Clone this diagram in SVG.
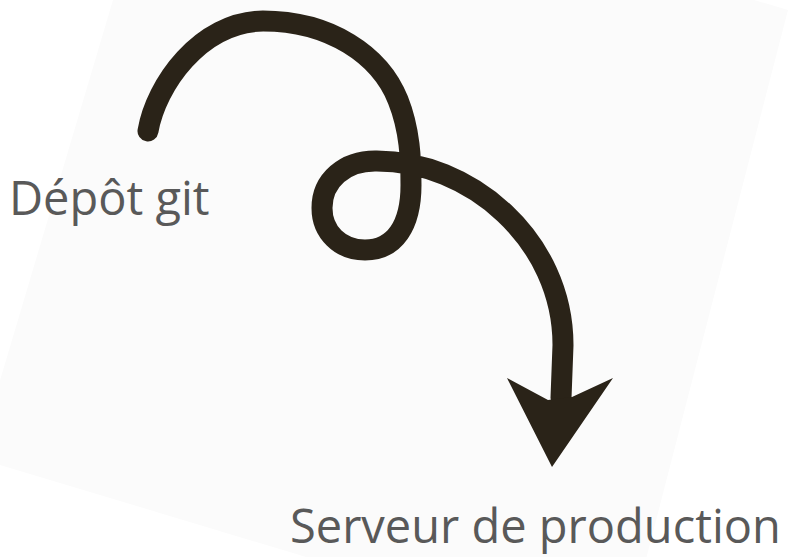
<svg xmlns="http://www.w3.org/2000/svg" width="796" height="557" viewBox="0 0 796 557">
  <style>
    .label { font-family: "Open Sans", "Noto Sans", "Liberation Sans", sans-serif; fill: #595959; }
    .curl { fill: none; stroke: #2a2318; stroke-width: 21; stroke-linecap: round; stroke-linejoin: round; }
    .head { fill: #2a2318; }
  </style>
  <rect x="0" y="0" width="796" height="557" fill="#ffffff"/>
  <polygon points="113,0 754,0 788,10 622,652 -23,458" fill="#fbfbfb"/>

  <g id="connectors">
    <path class="curl" d="M148,131 C156,85 200,22 263,21 C330,21 380,55 398,100 C410,130 411,160 411,185 C411,225 395,250 365,250 C340,250 322,232 322,208 C322,180 345,161 375,161 C470,160 563,240 563,345 L561,398"/>
    <polygon class="head" points="507,378 548,400 572,397 613,378 552,467"/>
  </g>

  <g id="depot-git">
    <text class="label" x="9" y="215" font-size="47">Dépôt git</text>
  </g>

  <g id="serveur-production">
    <text class="label" x="290" y="543" font-size="47">Serveur de production</text>
  </g>
</svg>
